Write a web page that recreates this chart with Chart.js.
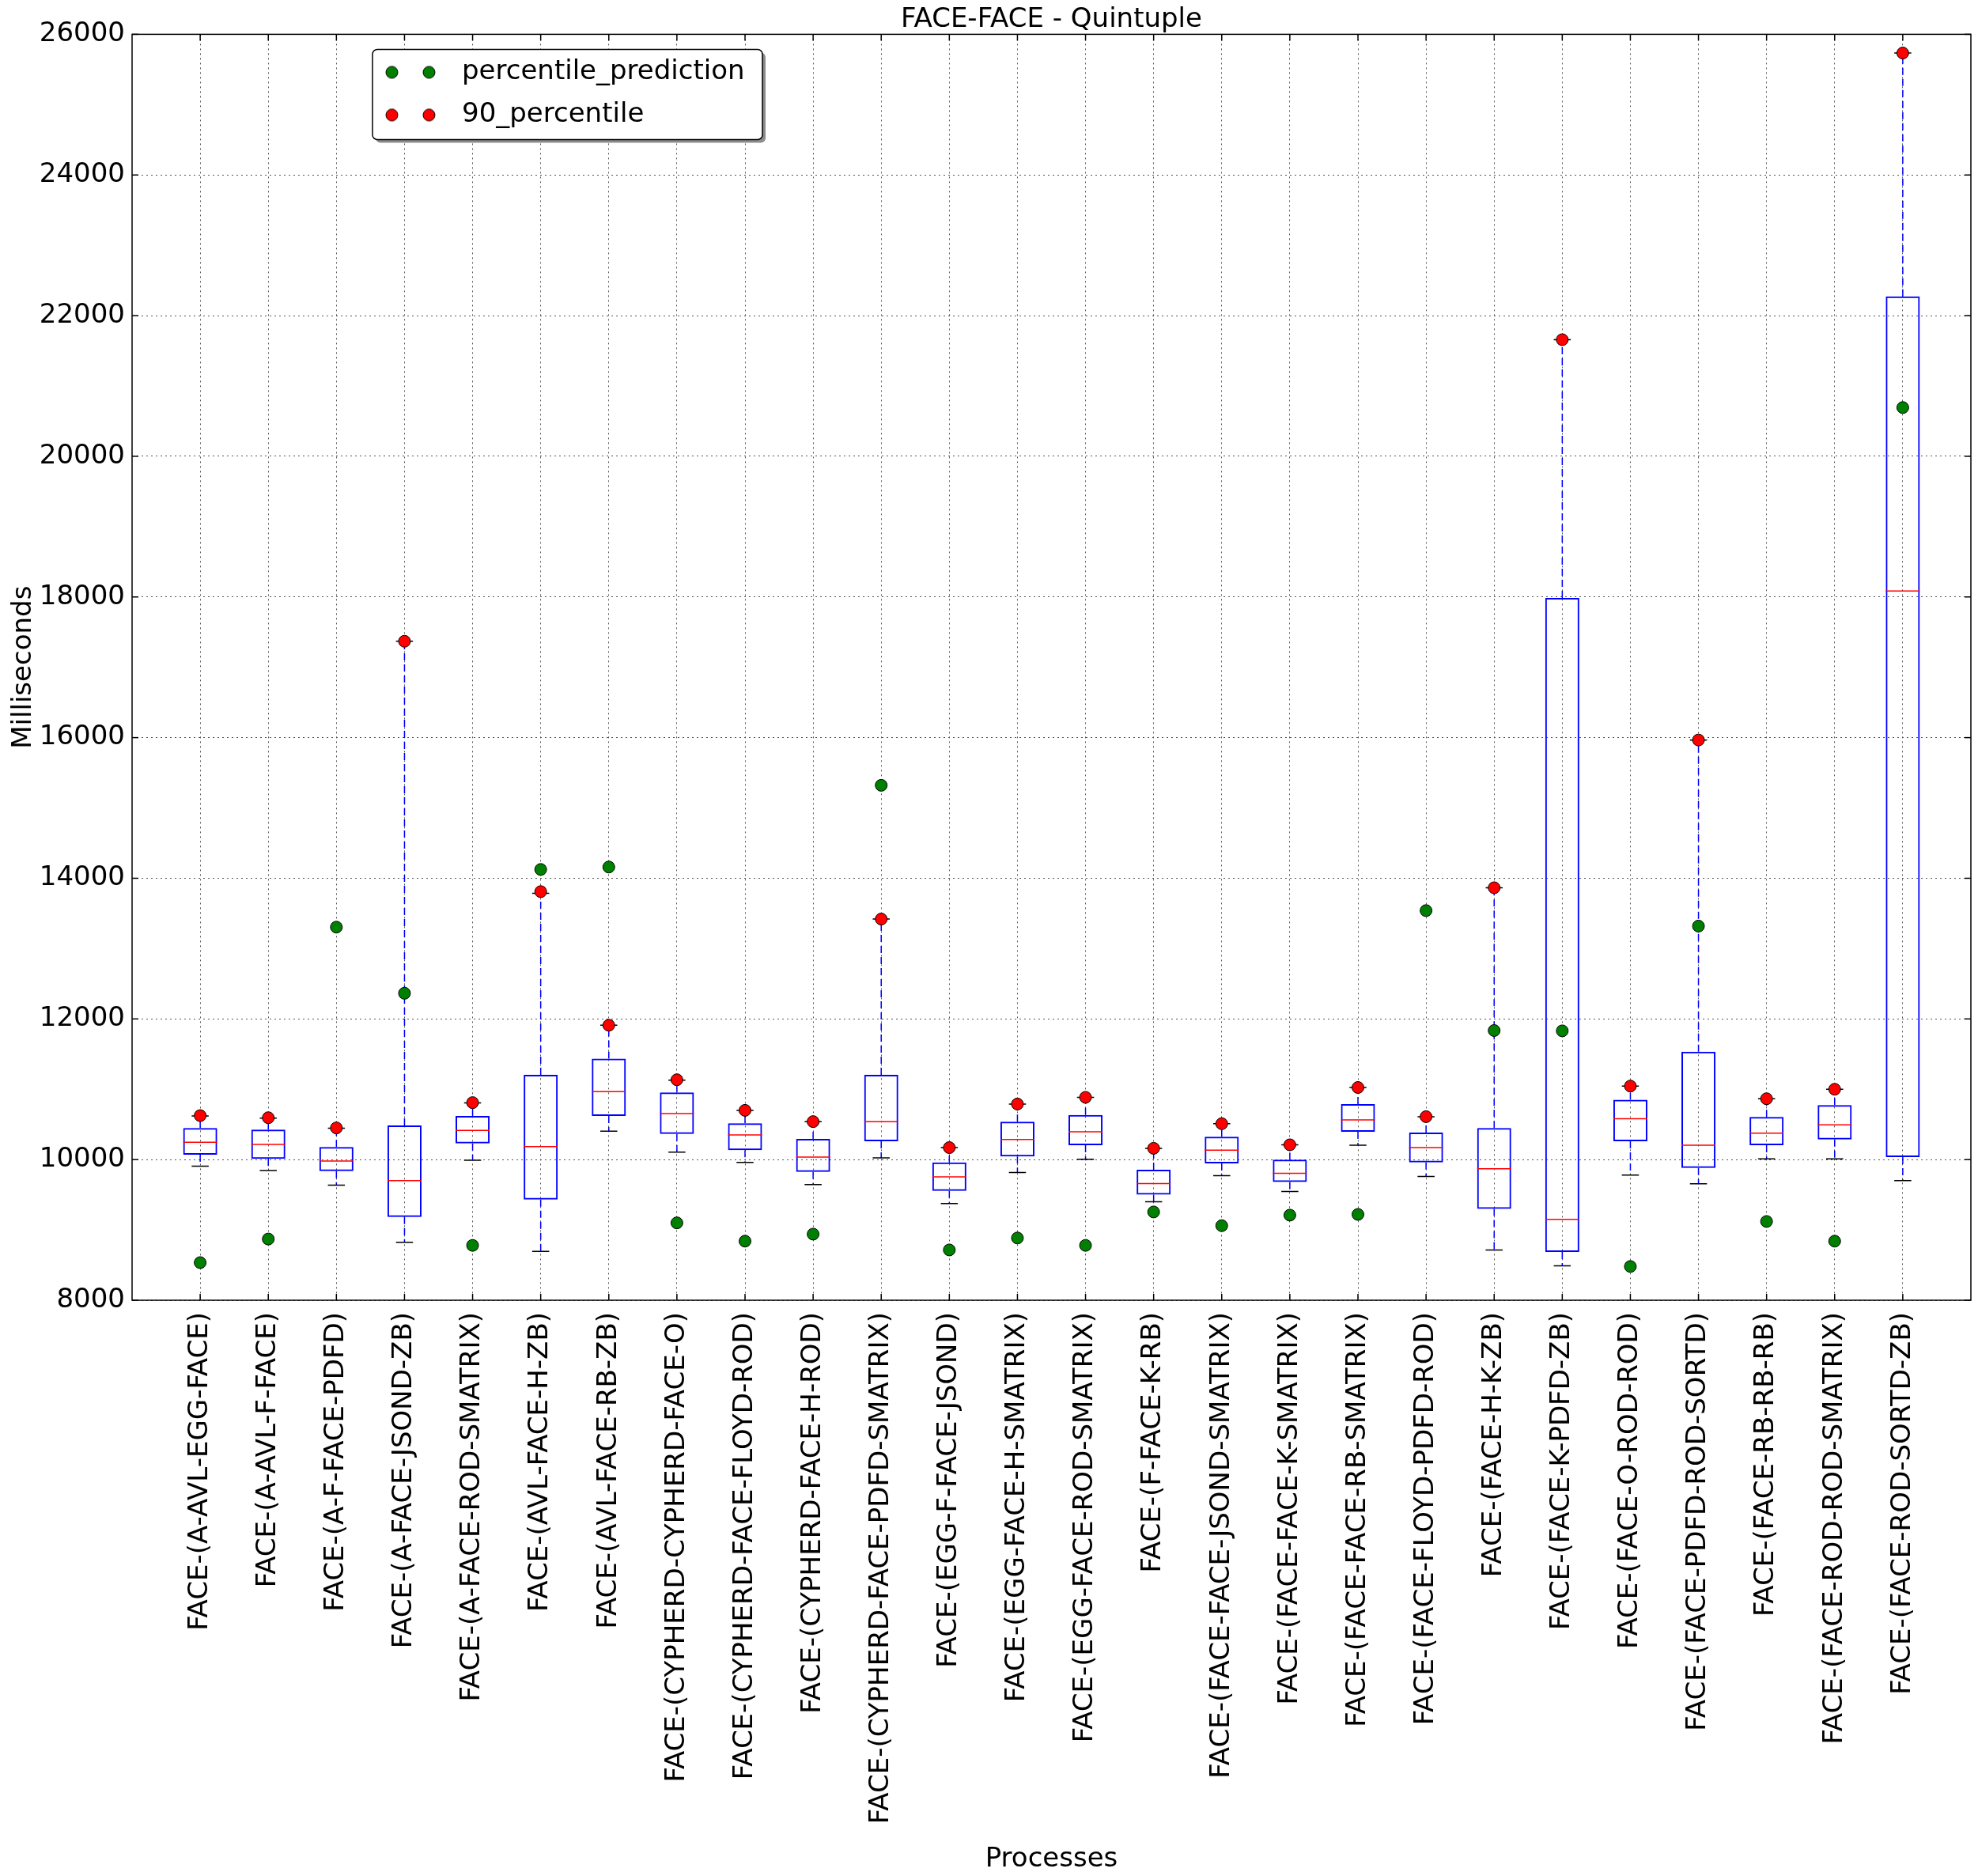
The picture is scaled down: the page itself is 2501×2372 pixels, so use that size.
<!DOCTYPE html>
<html>
<head>
<meta charset="utf-8">
<script src="https://cdn.jsdelivr.net/npm/chart.js@4/dist/chart.umd.min.js"></script>
<style>
html, body { margin: 0; padding: 0; background: #ffffff; }
#wrap { width: 2501px; height: 2372px; position: relative; }
</style>
</head>
<body>
<div id="wrap"><canvas id="chart"></canvas></div>
<script>
const categories = [
  'FACE-(A-AVL-EGG-FACE)', 'FACE-(A-AVL-F-FACE)', 'FACE-(A-F-FACE-PDFD)', 'FACE-(A-FACE-JSOND-ZB)',
  'FACE-(A-FACE-ROD-SMATRIX)', 'FACE-(AVL-FACE-H-ZB)', 'FACE-(AVL-FACE-RB-ZB)', 'FACE-(CYPHERD-CYPHERD-FACE-O)',
  'FACE-(CYPHERD-FACE-FLOYD-ROD)', 'FACE-(CYPHERD-FACE-H-ROD)', 'FACE-(CYPHERD-FACE-PDFD-SMATRIX)', 'FACE-(EGG-F-FACE-JSOND)',
  'FACE-(EGG-FACE-H-SMATRIX)', 'FACE-(EGG-FACE-ROD-SMATRIX)', 'FACE-(F-FACE-K-RB)', 'FACE-(FACE-FACE-JSOND-SMATRIX)',
  'FACE-(FACE-FACE-K-SMATRIX)', 'FACE-(FACE-FACE-RB-SMATRIX)', 'FACE-(FACE-FLOYD-PDFD-ROD)', 'FACE-(FACE-H-K-ZB)',
  'FACE-(FACE-K-PDFD-ZB)', 'FACE-(FACE-O-ROD-ROD)', 'FACE-(FACE-PDFD-ROD-SORTD)', 'FACE-(FACE-RB-RB-RB)',
  'FACE-(FACE-ROD-ROD-SMATRIX)', 'FACE-(FACE-ROD-SORTD-ZB)'
];
const boxQ1 = [10070, 10010, 9835, 9185, 10230, 9430, 10620, 10365, 10135, 9825, 10260, 9555, 10045, 10205, 9500, 9945, 9680, 10395, 9960, 9300, 8685, 10260, 9880, 10205, 10285, 10035];
const boxMedian = [10245, 10215, 9980, 9700, 10415, 10185, 10965, 10655, 10350, 10035, 10540, 9755, 10285, 10395, 9660, 10135, 9805, 10565, 10170, 9870, 9150, 10580, 10205, 10375, 10495, 18084];
const boxQ3 = [10450, 10425, 10180, 10485, 10620, 11205, 11435, 10955, 10515, 10295, 11205, 9960, 10540, 10635, 9855, 10325, 10000, 10790, 10385, 10450, 17986, 10850, 11535, 10605, 10775, 22275];
const whiskerLow = [9905, 9845, 9635, 8825, 9990, 8695, 10405, 10105, 9960, 9645, 10025, 9375, 9815, 10005, 9400, 9770, 9545, 10205, 9760, 8715, 8490, 9780, 9655, 10010, 10010, 9700];
const whiskerHigh = [10620, 10590, 10445, 17370, 10805, 13785, 11910, 11130, 10700, 10540, 13420, 10170, 10790, 10885, 10160, 10510, 10210, 11025, 10610, 13865, 21658, 11045, 15966, 10865, 11000, 25734];
const percentile90 = [10625, 10595, 10450, 17370, 10810, 13810, 11910, 11135, 10700, 10540, 13420, 10170, 10790, 10885, 10160, 10510, 10210, 11025, 10610, 13865, 21658, 11045, 15966, 10865, 11000, 25734];
const percentilePrediction = [8535, 8870, 13305, 12365, 8780, 14125, 14160, 9100, 8840, 8940, 15322, 8715, 8885, 8780, 9255, 9060, 9210, 9220, 13540, 11835, 11830, 8480, 13320, 9120, 8840, 20693];
const yTickValues = [8000, 10000, 12000, 14000, 16000, 18000, 20000, 22000, 24000, 26000];

const FONT = "'DejaVu Sans', 'Noto Sans', sans-serif";
Chart.defaults.font.family = FONT;
Chart.defaults.color = '#000';

const pos = (i) => i + 1;
const DOT_R = 7.5;

function markerImage(color) {
  const c = document.createElement('canvas');
  c.width = 96; c.height = 20;
  const g = c.getContext('2d');
  [24.5, 71.5].forEach(cx => {
    g.beginPath();
    g.arc(cx, 10, DOT_R, 0, 2 * Math.PI);
    g.fillStyle = color; g.fill();
    g.lineWidth = 1; g.strokeStyle = '#000'; g.stroke();
  });
  return c;
}
const legendMarkers = { percentile_prediction: markerImage('#008000'), '90_percentile': markerImage('#ff0000') };

function halfBox(ctx, frac) {
  const xs = ctx.chart.scales.x;
  return xs.getPixelForValue(1 + frac) - xs.getPixelForValue(1);
}

const whiskerData = [];
categories.forEach((c, i) => {
  whiskerData.push({ x: pos(i), y: boxQ3[i] }, { x: pos(i), y: whiskerHigh[i] }, { x: pos(i), y: null });
  whiskerData.push({ x: pos(i), y: boxQ1[i] }, { x: pos(i), y: whiskerLow[i] }, { x: pos(i), y: null });
});
const capData = [];
categories.forEach((c, i) => {
  capData.push({ x: pos(i), y: whiskerLow[i] }, { x: pos(i), y: whiskerHigh[i] });
});

function roundRectPath(ctx, x, y, w, h, r) {
  ctx.beginPath();
  ctx.moveTo(x + r, y);
  ctx.arcTo(x + w, y, x + w, y + h, r);
  ctx.arcTo(x + w, y + h, x, y + h, r);
  ctx.arcTo(x, y + h, x, y, r);
  ctx.arcTo(x, y, x + w, y, r);
  ctx.closePath();
}

const framePlugin = {
  id: 'frameAndLegend',
  afterInit(chart) {
    const lg = chart.legend;
    if (!lg) return;
    const orig = lg.draw;
    lg.draw = function (area) {
      const f = this._frame;
      if (f && this.options.display) {
        const ctx = chart.ctx;
        ctx.save();
        roundRectPath(ctx, f.x + 4, f.y + 4, f.w, f.h, 6);
        ctx.fillStyle = '#8c8c8c'; ctx.fill();
        roundRectPath(ctx, f.x, f.y, f.w, f.h, 6);
        ctx.fillStyle = '#ffffff'; ctx.fill();
        ctx.lineWidth = 1.5; ctx.strokeStyle = '#000'; ctx.stroke();
        ctx.restore();
      }
      orig.call(this, area);
    };
  },
  afterLayout(chart) {
    const lg = chart.legend;
    const ca = chart.chartArea;
    if (!lg) return;
    const fx = ca.left + 304, fy = ca.top + 19;
    lg.left = fx - 20; lg.top = fy - 8;
    lg.width = 640; lg.height = 240;
    lg.right = lg.left + lg.width; lg.bottom = lg.top + lg.height;
    lg._frame = { x: fx, y: fy, w: 493, h: 114 };
  },
  afterDraw(chart) {
    const ctx = chart.ctx, ca = chart.chartArea;
    const xs = chart.scales.x, ys = chart.scales.y;
    ctx.save();
    ctx.strokeStyle = '#000';
    ctx.lineWidth = 1.5;
    const seg = (x1, y1, x2, y2) => { ctx.beginPath(); ctx.moveTo(x1, y1); ctx.lineTo(x2, y2); ctx.stroke(); };
    xs.ticks.forEach(t => {
      const px = xs.getPixelForValue(t.value);
      seg(px, ca.bottom, px, ca.bottom - 8);
      seg(px, ca.top, px, ca.top + 8);
    });
    ys.ticks.forEach(t => {
      const py = ys.getPixelForValue(t.value);
      seg(ca.left, py, ca.left + 8, py);
      seg(ca.right, py, ca.right - 8, py);
    });
    ctx.strokeRect(ca.left, ca.top, ca.right - ca.left, ca.bottom - ca.top);
    ctx.restore();
  }
};

new Chart(document.getElementById('chart'), {
  type: 'scatter',
  data: {
    datasets: [
      {
        label: 'percentile_prediction',
        type: 'scatter',
        data: percentilePrediction.map((v, i) => ({ x: pos(i), y: v })),
        backgroundColor: '#008000',
        borderColor: '#000',
        borderWidth: 1,
        pointRadius: DOT_R,
        order: 1
      },
      {
        label: '90_percentile',
        type: 'scatter',
        data: percentile90.map((v, i) => ({ x: pos(i), y: v })),
        backgroundColor: '#ff0000',
        borderColor: '#000',
        borderWidth: 1,
        pointRadius: DOT_R,
        order: 0
      },
      {
        type: 'scatter',
        data: boxMedian.map((v, i) => ({ x: pos(i), y: v })),
        pointStyle: 'line',
        pointRadius: (ctx) => halfBox(ctx, 0.25),
        borderColor: '#ff0000',
        borderWidth: 1.5,
        order: 2
      },
      {
        type: 'scatter',
        data: capData,
        pointStyle: 'line',
        pointRadius: (ctx) => halfBox(ctx, 0.125),
        borderColor: '#000',
        borderWidth: 1.5,
        order: 2
      },
      {
        type: 'bar',
        data: boxQ1.map((v, i) => ({ x: pos(i), y: [v, boxQ3[i]] })),
        backgroundColor: 'rgba(0,0,0,0)',
        borderColor: '#0000ff',
        borderWidth: 2,
        borderSkipped: false,
        barPercentage: 0.5,
        categoryPercentage: 1.0,
        order: 3
      },
      {
        type: 'line',
        data: whiskerData,
        borderColor: '#0000ff',
        borderWidth: 1.5,
        borderDash: [9, 5],
        pointRadius: 0,
        spanGaps: false,
        fill: false,
        order: 4
      }
    ]
  },
  options: {
    responsive: true,
    maintainAspectRatio: false,
    devicePixelRatio: 1,
    animation: false,
    events: [],
    layout: { padding: { left: 0, right: 9, top: 0, bottom: 0 } },
    plugins: {
      tooltip: { enabled: false },
      title: {
        display: true,
        text: 'FACE-FACE - Quintuple',
        color: '#000',
        fullSize: false,
        font: { size: 34, weight: 'normal', family: FONT, lineHeight: 1.1 },
        padding: { top: 6, bottom: 0 }
      },
      legend: {
        display: true,
        position: 'chartArea',
        align: 'start',
        labels: {
          usePointStyle: true,
          pointStyleWidth: 96,
          padding: 20,
          color: '#000',
          font: { size: 34, family: FONT },
          sort: (a, b) => a.datasetIndex - b.datasetIndex,
          generateLabels(chart) {
            const items = Chart.defaults.plugins.legend.labels.generateLabels(chart);
            return items.filter(it => it.text).map(it => Object.assign({}, it, { pointStyle: legendMarkers[it.text] }));
          }
        }
      }
    },
    scales: {
      x: {
        type: 'linear',
        min: 0,
        max: 27,
        offset: false,
        afterBuildTicks: (axis) => { axis.ticks = categories.map((c, i) => ({ value: pos(i) })); },
        afterFit: (s) => { s.height = 728; },
        ticks: {
          autoSkip: false,
          minRotation: 90,
          maxRotation: 90,
          padding: 15,
          color: '#000',
          font: { size: 34, family: FONT },
          callback: (v) => categories[v - 1]
        },
        grid: { color: '#555', lineWidth: 1, drawTicks: false, offset: false },
        border: { display: false, dash: [2, 4] },
        title: { display: true, text: 'Processes', color: '#000', font: { size: 34, family: FONT }, padding: { top: 0, bottom: 0 } }
      },
      y: {
        type: 'linear',
        min: 8000,
        max: 26000,
        afterBuildTicks: (axis) => { axis.ticks = yTickValues.map(v => ({ value: v })); },
        afterFit: (s) => { s.width = 167; },
        ticks: {
          padding: 9,
          color: '#000',
          font: { size: 34, family: FONT },
          callback: (v) => String(v)
        },
        grid: { color: '#555', lineWidth: 1, drawTicks: false },
        border: { display: false, dash: [2, 4] },
        title: { display: true, text: 'Milliseconds', color: '#000', font: { size: 34, family: FONT }, padding: { top: 10, bottom: 0 } }
      }
    }
  },
  plugins: [framePlugin]
});
</script>
</body>
</html>
